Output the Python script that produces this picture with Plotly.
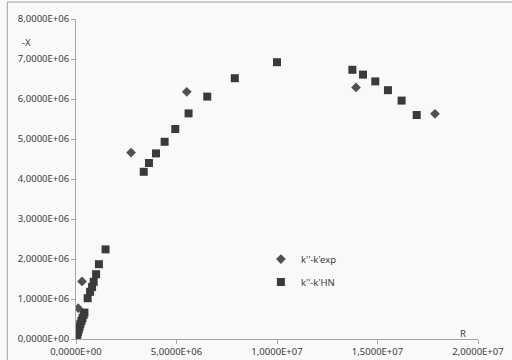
import plotly.graph_objects as go

# Series: k''-k'exp (diamonds)
exp_R = [0.11e6, 0.30e6, 2.74e6, 5.51e6, 13.93e6, 17.86e6]
exp_X = [0.77e6, 1.44e6, 4.66e6, 6.18e6, 6.29e6, 5.63e6]

# Series: k''-k'HN (squares)
hn_R = [0.01e6, 0.02e6, 0.04e6, 0.07e6, 0.10e6, 0.14e6, 0.18e6, 0.22e6, 0.27e6, 0.32e6,
        0.38e6, 0.42e6, 0.58e6, 0.70e6, 0.80e6, 0.88e6, 1.00e6, 1.14e6, 1.47e6,
        3.37e6, 3.63e6, 3.98e6, 4.41e6, 4.94e6, 5.60e6, 6.53e6, 7.90e6, 10.0e6,
        13.75e6, 14.28e6, 14.89e6, 15.52e6, 16.20e6, 16.95e6]
hn_X = [0.005e6, 0.03e6, 0.07e6, 0.12e6, 0.18e6, 0.24e6, 0.31e6, 0.38e6, 0.45e6, 0.52e6,
        0.60e6, 0.66e6, 1.02e6, 1.18e6, 1.30e6, 1.43e6, 1.62e6, 1.87e6, 2.24e6,
        4.18e6, 4.40e6, 4.64e6, 4.93e6, 5.25e6, 5.64e6, 6.06e6, 6.52e6, 6.92e6,
        6.73e6, 6.61e6, 6.44e6, 6.22e6, 5.96e6, 5.60e6]

x_ticks = [0, 5e6, 1e7, 1.5e7, 2e7]
y_ticks = [0, 1e6, 2e6, 3e6, 4e6, 5e6, 6e6, 7e6, 8e6]

def fmt(v):
    return f"{v:.4E}".replace('.', ',')

FONT = "Noto Sans"
TXT = "#3a3a3a"
BG = "#f9f9f9"

fig = go.Figure()
fig.add_trace(go.Scatter(x=exp_R, y=exp_X, mode="markers", name="k''-k'exp",
                         legendgroup="a",
                         marker=dict(symbol="diamond", size=7.5, color="#505050")))
fig.add_trace(go.Scatter(x=hn_R, y=hn_X, mode="markers", name="k''-k'HN",
                         legendgroup="b",
                         marker=dict(symbol="square", size=8, color="#3a3a3a")))

axis_common = dict(showgrid=False, zeroline=False, showline=True, linecolor="#a6a6a6",
                   linewidth=1, ticks="outside", ticklen=4, tickcolor="#a6a6a6",
                   automargin=False,
                   tickfont=dict(family=FONT, size=9.5, color=TXT))

fig.update_xaxes(range=[0, 2e7], tickvals=x_ticks, ticktext=[fmt(v) for v in x_ticks],
                 **axis_common)
fig.update_yaxes(range=[0, 8e6], tickvals=y_ticks, ticktext=[fmt(v) for v in y_ticks],
                 **axis_common)

fig.update_layout(
    width=512, height=360,
    margin=dict(l=76, r=34, t=19, b=21, autoexpand=False),
    paper_bgcolor=BG, plot_bgcolor=BG,
    showlegend=True,
    legend=dict(x=0.46, y=0.295, xanchor="left", yanchor="top",
                bgcolor="rgba(0,0,0,0)", traceorder="grouped", tracegroupgap=4,
                itemwidth=30,
                font=dict(family=FONT, size=9.5, color=TXT)),
    annotations=[
        dict(text="-X", xref="paper", yref="paper", x=-0.122, y=0.925,
             xanchor="center", yanchor="middle",
             showarrow=False, font=dict(family=FONT, size=9.5, color=TXT)),
        dict(text="R", xref="paper", yref="paper", x=0.963, y=0.016,
             xanchor="center", yanchor="middle",
             showarrow=False,
             font=dict(family=FONT, size=9.5, color=TXT)),
    ],
    shapes=[
        dict(type="line", xref="paper", yref="paper", x0=-0.171, x1=-0.171, y0=-0.1, y1=1.053,
             line=dict(color="#a0a0a0", width=1)),
        dict(type="line", xref="paper", yref="paper", x0=-0.171, x1=1.1, y0=1.053, y1=1.053,
             line=dict(color="#a0a0a0", width=1)),
    ],
)

fig.write_html("out.html")
